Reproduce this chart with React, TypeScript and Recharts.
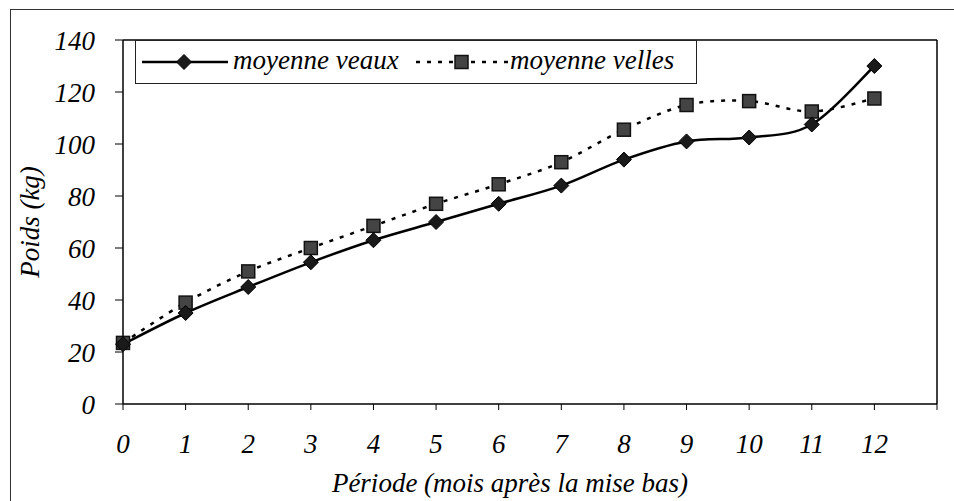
import React from 'react';
import { LineChart, Line, XAxis, YAxis, ReferenceLine, Legend, Label } from 'recharts';

const months = [0, 1, 2, 3, 4, 5, 6, 7, 8, 9, 10, 11, 12];
const veaux = [23, 35, 45, 54.5, 63, 70, 77, 84, 94, 101, 102.5, 107.5, 130];
const velles = [23.5, 39, 51, 60, 68.5, 77, 84.5, 93, 105.5, 115, 116.5, 112.5, 117.5];
const xTicks = [0, 1, 2, 3, 4, 5, 6, 7, 8, 9, 10, 11, 12, 13];
const yTicks = [0, 20, 40, 60, 80, 100, 120, 140];
const seriesNames = ['moyenne veaux', 'moyenne velles'];
const xTitle = 'Période (mois après la mise bas)';
const yTitle = 'Poids (kg)';

const data = months.map((m, i) => ({ x: m, veaux: veaux[i], velles: velles[i] }));

const FONT = 'Liberation Serif, DejaVu Serif, serif';
const FS = 27;

// Excel-like smoothed curve (Catmull-Rom as cubic Bezier)
const smoothCurve: any = (context: any) => {
  let pts: number[][] = [];
  return {
    areaStart() {},
    areaEnd() {},
    lineStart() {
      pts = [];
    },
    point(x: number, y: number) {
      pts.push([+x, +y]);
    },
    lineEnd() {
      if (!pts.length) return;
      context.moveTo(pts[0][0], pts[0][1]);
      for (let i = 0; i < pts.length - 1; i++) {
        const p0 = pts[i - 1] || pts[i];
        const p1 = pts[i];
        const p2 = pts[i + 1];
        const p3 = pts[i + 2] || pts[i + 1];
        context.bezierCurveTo(
          p1[0] + (p2[0] - p0[0]) / 6,
          p1[1] + (p2[1] - p0[1]) / 6,
          p2[0] - (p3[0] - p1[0]) / 6,
          p2[1] - (p3[1] - p1[1]) / 6,
          p2[0],
          p2[1]
        );
      }
    },
  };
};

const Diamond = (props: any) => {
  const { cx, cy, index } = props;
  if (cx == null || cy == null) return <g key={`d-${index}`} />;
  const r = 7.5;
  return (
    <polygon
      key={`d-${index}`}
      points={`${cx},${cy - r} ${cx + r},${cy} ${cx},${cy + r} ${cx - r},${cy}`}
      fill="#1a1a1a"
      stroke="#000"
      strokeWidth={1}
    />
  );
};

const Square = (props: any) => {
  const { cx, cy, index } = props;
  if (cx == null || cy == null) return <g key={`s-${index}`} />;
  const h = 6.5;
  return (
    <rect
      key={`s-${index}`}
      x={cx - h}
      y={cy - h}
      width={2 * h}
      height={2 * h}
      fill="#444"
      stroke="#111"
      strokeWidth={1.5}
    />
  );
};

const LegendBox = () => (
  <div
    style={{
      position: 'relative',
      width: 562,
      height: 44,
      border: '1.5px solid #222',
      boxSizing: 'border-box',
      background: '#fff',
      fontFamily: FONT,
      fontStyle: 'italic',
      fontSize: FS,
      color: '#000',
    }}
  >
    <svg style={{ position: 'absolute', left: 6, top: 10 }} width={86} height={22}>
      <line x1={0} y1={11} x2={86} y2={11} stroke="#000" strokeWidth={2.5} />
      <polygon points="42,3.5 49.5,11 42,18.5 34.5,11" fill="#1a1a1a" stroke="#000" />
    </svg>
    <span style={{ position: 'absolute', left: 97, top: 3, lineHeight: '32px', whiteSpace: 'nowrap' }}>
      {seriesNames[0]}
    </span>
    <svg style={{ position: 'absolute', left: 280, top: 10 }} width={92} height={22}>
      <line x1={0} y1={11} x2={92} y2={11} stroke="#000" strokeWidth={2.5} strokeDasharray="4 7" />
      <rect x={39} y={4.5} width={13} height={13} fill="#444" stroke="#111" strokeWidth={1.5} />
    </svg>
    <span style={{ position: 'absolute', left: 374, top: 3, lineHeight: '32px', whiteSpace: 'nowrap' }}>
      {seriesNames[1]}
    </span>
  </div>
);

const tickStyle = { fontFamily: FONT, fontStyle: 'italic', fontSize: FS, fill: '#000' };

export default function App() {
  return (
    <div style={{ position: 'absolute', left: 0, top: 0, width: 954, height: 501, background: '#fff', fontFamily: FONT }}>
      <div
        style={{
          position: 'absolute',
          left: 10,
          top: 9,
          width: 944,
          height: 492,
          borderTop: '1.5px solid #333',
          borderLeft: '1.5px solid #333',
          boxSizing: 'border-box',
        }}
      />
      <LineChart
        width={954}
        height={501}
        data={data}
        margin={{ top: 40, right: 17, left: 0, bottom: 0 }}
        style={{ fontFamily: FONT }}
      >
        <XAxis
          dataKey="x"
          type="number"
          domain={[0, 13]}
          ticks={xTicks}
          tickFormatter={(v: number) => (v === 13 ? '' : String(v))}
          interval={0}
          height={97}
          tickSize={6}
          tickMargin={24}
          axisLine={{ stroke: '#000', strokeWidth: 1.5 }}
          tickLine={{ stroke: '#000' }}
          tick={tickStyle}
        >
          <Label
            content={(p: any) => {
              const vb = p.viewBox || {};
              return (
                <text
                  x={vb.x + vb.width / 2 - 20}
                  y={vb.y + vb.height - 9}
                  textAnchor="middle"
                  fontFamily={FONT}
                  fontStyle="italic"
                  fontSize={FS}
                  fill="#000"
                >
                  {xTitle}
                </text>
              );
            }}
          />
        </XAxis>
        <YAxis
          type="number"
          domain={[0, 140]}
          ticks={yTicks}
          width={123}
          tickSize={8}
          tickMargin={20}
          axisLine={{ stroke: '#000', strokeWidth: 1.5 }}
          tickLine={{ stroke: '#000' }}
          tick={tickStyle}
        >
          <Label
            content={(p: any) => {
              const vb = p.viewBox || {};
              const cx = 39;
              const cy = vb.y + vb.height / 2;
              return (
                <text
                  x={cx}
                  y={cy}
                  textAnchor="middle"
                  transform={`rotate(-90, ${cx}, ${cy})`}
                  fontFamily={FONT}
                  fontStyle="italic"
                  fontSize={FS}
                  fill="#000"
                >
                  {yTitle}
                </text>
              );
            }}
          />
        </YAxis>
        <ReferenceLine y={140} stroke="#000" strokeWidth={1.5} />
        <ReferenceLine x={13} stroke="#000" strokeWidth={1.5} />
        <Legend
          layout="horizontal"
          verticalAlign="middle"
          align="center"
          content={() => <LegendBox />}
          wrapperStyle={{ position: 'absolute', left: 135, top: 40, width: 562, height: 44 }}
        />
        <Line
          dataKey="velles"
          type={smoothCurve}
          stroke="#000"
          strokeWidth={2.5}
          strokeDasharray="4 7"
          dot={Square}
          activeDot={false}
          isAnimationActive={false}
        />
        <Line
          dataKey="veaux"
          type={smoothCurve}
          stroke="#000"
          strokeWidth={2.5}
          dot={Diamond}
          activeDot={false}
          isAnimationActive={false}
        />
      </LineChart>
    </div>
  );
}
